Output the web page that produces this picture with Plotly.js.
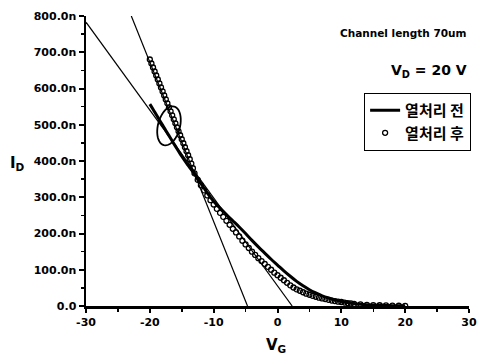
<!DOCTYPE html>
<html>
<head>
<meta charset="utf-8">
<script src="https://cdn.plot.ly/plotly-3.0.1.min.js"></script>
<style>html,body{margin:0;padding:0;background:#fff;}#chart{width:479px;height:361px;}</style>
</head>
<body>
<div id="chart"></div>
<script>
// Gate voltage V_G (V) and drain current I_D (nA)
var beforeVG = [-20,-19.5,-19,-18.5,-18,-17.5,-17,-16.5,-16,-15.5,-15,-14.5,-14,-13.5,-13,-12.5,-12,-11.5,-11,-10.5,-10,-9,-8,-7,-6,-5,-4,-3,-2,-1,0,1,2,3,4,5,6,7,8,9,10,11,12,13,14,15,16,17,18,19,20];
var beforeID = [557,543,528,513,499,484,470,455,441,427,413,400,388,376,364,351,338,325,312,300,289,270,252,235,218,200,181,163,146,129,113,97,82,68,56,45,36,28,22,17,13,9.5,7,5,3.5,2.5,2,1.5,1,0.7,0.5];

var afterVG = [-20,-19.75,-19.5,-19.25,-19,-18.75,-18.5,-18.25,-18,-17.75,-17.5,-17.25,-17,-16.75,-16.5,-16.25,-16,-15.75,-15.5,-15.25,-15,-14.75,-14.5,-14.25,-14,-13.75,-13.5,-13.25,-13,-12.5,-12,-11.5,-11,-10.5,-10,-9.5,-9,-8.5,-8,-7.5,-7,-6.5,-6,-5.5,-5,-4.5,-4,-3.5,-3,-2.5,-2,-1.5,-1,-0.5,0,0.5,1,1.5,2,2.5,3,3.5,4,4.5,5,5.5,6,6.5,7,7.5,8,8.5,9,9.5,10,10.5,11,11.5,12,13,14,15,16,17,18,19,20];
var afterID = [680,669,658,647,636,625,614,603,592,581,570,559,548,537,526,515,504,493,482,471,460,449,438,427,416,405,393,380,366,348,333,319,305,292,280,268,257,246,235,224,213,203,192,180,170,160,150,141,132,124,116,108,100,92,85,78,71,64,57,51,46,42,38,34,31,28,25.5,23,21,19,17,15,13.5,12,11,9.5,8,7,6,4.5,3.3,2.5,2,1.5,1,0.7,0.5];

// Two straight reference (tangent) lines
var tangentSteepVG = [-22.9, -4.7];
var tangentSteepID = [800, 0];
var tangentShallowVG = [-30, 2.3];
var tangentShallowID = [783, 0];

var yTickVals = [0,100,200,300,400,500,600,700,800];
var yTickText = ['0.0','100.0n','200.0n','300.0n','400.0n','500.0n','600.0n','700.0n','800.0n'];
var xTickVals = [-30,-20,-10,0,10,20,30];
var xTickText = ['-30','-20','-10','0','10','20','30'];

var legendBefore = '열처리 전';
var legendAfter = '열처리 후';

// ellipse highlight (center in data units, radii in px)
var ellCenter = [-17.0, 497];
var ellA = 20, ellB = 11, ellTilt = 15;
var pxPerV = 6.4, pxPerN = 0.3625;
function ellipsePath(){
  var th = ellTilt*Math.PI/180, s = '';
  var ux = Math.sin(th), uy = -Math.cos(th), vx = Math.cos(th), vy = Math.sin(th);
  for (var i=0;i<=48;i++){
    var t = i/48*2*Math.PI;
    var dx = ellA*Math.cos(t)*ux + ellB*Math.sin(t)*vx;
    var dy = ellA*Math.cos(t)*uy + ellB*Math.sin(t)*vy;
    var X = ellCenter[0] + dx/pxPerV, Y = ellCenter[1] - dy/pxPerN;
    s += (i===0?'M ':' L ') + X.toFixed(3) + ',' + Y.toFixed(2);
  }
  return s + ' Z';
}

var bold = {family:'DejaVu Sans', size:11, color:'#000', weight:'bold'};

var traces = [
  {x: tangentShallowVG, y: tangentShallowID, mode:'lines', line:{color:'#000', width:1.2}, showlegend:false, hoverinfo:'skip'},
  {x: tangentSteepVG, y: tangentSteepID, mode:'lines', line:{color:'#000', width:1.2}, showlegend:false, hoverinfo:'skip'},
  {x: beforeVG, y: beforeID, name: legendBefore, mode:'lines', line:{color:'#000', width:3, shape:'spline'}},
  {x: afterVG, y: afterID, name: legendAfter, mode:'markers', marker:{symbol:'circle-open', size:5, color:'#000', line:{width:1.3, color:'#000'}}}
];

var layout = {
  width:479, height:361,
  margin:{l:86, r:8, t:16, b:55},
  paper_bgcolor:'#fff', plot_bgcolor:'#fff',
  showlegend:true,
  legend:{x:1.005, xanchor:'right', y:0.735, yanchor:'top', bordercolor:'#000', borderwidth:1.2, bgcolor:'#fff',
          font:{family:'Noto Sans CJK KR', size:15, color:'#000', weight:'bold'}, tracegroupgap:0, itemwidth:30},
  xaxis:{range:[-30,30], tickmode:'array', tickvals:xTickVals, ticktext:xTickText, showgrid:false, zeroline:false,
         showline:true, linecolor:'#000', linewidth:2.5, ticks:'outside', ticklen:4, tickwidth:2, tickcolor:'#000',
         tickfont:bold, minor:{tickmode:'linear', tick0:-25, dtick:10, ticks:'outside', ticklen:3, tickwidth:1.5, tickcolor:'#000'}},
  yaxis:{range:[0,800], tickmode:'array', tickvals:yTickVals, ticktext:yTickText, showgrid:false, zeroline:false,
         showline:true, linecolor:'#000', linewidth:2.5, ticks:'outside', ticklen:5, tickwidth:2, tickcolor:'#000',
         tickfont:bold, minor:{tickmode:'linear', tick0:50, dtick:100, ticks:'outside', ticklen:3, tickwidth:1.5, tickcolor:'#000'}},
  shapes:[{type:'path', xref:'x', yref:'y', path: ellipsePath(), line:{color:'#000', width:1.8}}],
  annotations:[
    {xref:'paper', yref:'paper', x:1.0, y:0.941, xanchor:'right', yanchor:'middle', showarrow:false,
     text:'Channel length 70um', font:{family:'DejaVu Sans', size:10.5, color:'#000', weight:'bold'}},
    {xref:'paper', yref:'paper', x:1.0, y:0.81, xanchor:'right', yanchor:'middle', showarrow:false,
     text:'V<sub>D</sub> = 20 V', font:{family:'DejaVu Sans', size:14, color:'#000', weight:'bold'}},
    {xref:'paper', yref:'paper', x:-0.18, y:0.49, xanchor:'center', yanchor:'middle', showarrow:false,
     text:'I<sub>D</sub>', font:{family:'DejaVu Sans', size:15, color:'#000', weight:'bold'}},
    {xref:'paper', yref:'paper', x:0.495, y:-0.135, xanchor:'center', yanchor:'middle', showarrow:false,
     text:'V<sub>G</sub>', font:{family:'DejaVu Sans', size:15, color:'#000', weight:'bold'}}
  ]
};

Plotly.newPlot('chart', traces, layout, {displayModeBar:false, staticPlot:true});
</script>
</body>
</html>
